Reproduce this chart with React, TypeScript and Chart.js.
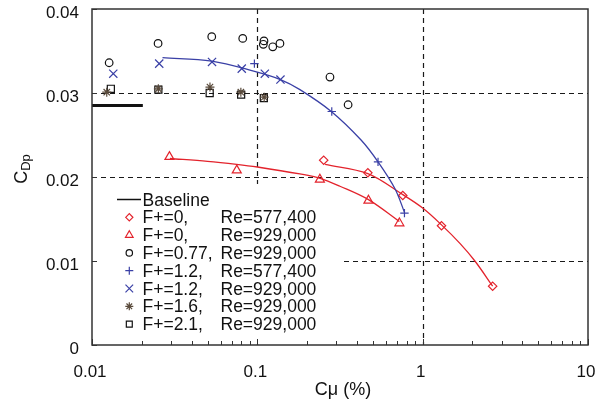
import React, { useEffect, useRef } from 'react';
import { Chart, registerables } from 'chart.js';
Chart.register(...registerables);

const RED = '#e3232c';
const BLUE = '#3a40a6';
const BROWN = '#5a4b3c';
const BLACK = '#111111';
const FONT = '"Liberation Sans", Arial, sans-serif';

// Axis ticks
const xTickValues = [0.01, 0.1, 1, 10];
const xTickLabels = ['0.01', '0.1', '1', '10'];
const xMinorBases = [2, 3, 4, 5, 6, 7, 8, 9];
const yTickValues = [0, 0.01, 0.02, 0.03, 0.04];
const yTickLabels = ['0', '0.01', '0.02', '0.03', '0.04'];
const xGridValues = [0.1, 1];
const yGridValues = [0.01, 0.02, 0.03];

// Baseline
const baselineCmu = [0.01, 0.0203];
const baselineCdp = [0.0285, 0.0285];

// Measured series
const diamondCmu = [0.252, 0.466, 0.758, 1.3, 2.65];
const diamondCdp = [0.022, 0.0205, 0.0178, 0.0142, 0.007];
const triangleCmu = [0.0294, 0.0751, 0.239, 0.47, 0.723];
const triangleCdp = [0.0224, 0.0208, 0.0197, 0.0172, 0.0145];
const circleCmu = [0.0127, 0.0251, 0.053, 0.0816, 0.1097, 0.1087, 0.124, 0.137, 0.275, 0.354];
const circleCdp = [0.0336, 0.0359, 0.0367, 0.0365, 0.0362, 0.0358, 0.0355, 0.0359, 0.0319, 0.0286];
const plusCmu = [0.096, 0.282, 0.537, 0.776];
const plusCdp = [0.0335, 0.0278, 0.0218, 0.0157];
const crossCmu = [0.01345, 0.0255, 0.0532, 0.0805, 0.111, 0.138];
const crossCdp = [0.0323, 0.0335, 0.0337, 0.0329, 0.0323, 0.0316];
const starCmu = [0.01228, 0.0252, 0.0517, 0.0795, 0.11];
const starCdp = [0.0301, 0.0305, 0.0307, 0.0301, 0.0295];
const squareCmu = [0.013, 0.0252, 0.0515, 0.0798, 0.1095];
const squareCdp = [0.0305, 0.0304, 0.03, 0.0298, 0.0294];

// Fit curves
const fitBlueCmu = [0.0267, 0.053, 0.095, 0.138, 0.181, 0.28, 0.424, 0.537, 0.68, 0.776];
const fitBlueCdp = [0.0342, 0.0338, 0.0326, 0.0316, 0.0304, 0.0278, 0.0244, 0.0218, 0.0186, 0.0158];
const fitRedLowCmu = [0.0296, 0.05, 0.075, 0.1, 0.181, 0.24, 0.316, 0.47, 0.723];
const fitRedLowCdp = [0.0222, 0.02187, 0.02151, 0.02119, 0.02036, 0.01984, 0.0189, 0.0173, 0.0147];
const fitRedHighCmu = [0.257, 0.466, 0.758, 1.0, 1.3, 1.68, 2.07, 2.65];
const fitRedHighCdp = [0.0215, 0.0204, 0.0179, 0.0163, 0.0143, 0.0121, 0.01, 0.007];

// Legend
const legendStyles = ['rectRot', 'triangle', 'circle', 'cross', 'crossRot', 'star', 'rect'];
const legendColors = [RED, RED, BLACK, BLUE, BLUE, BROWN, BLACK];
const legendF = ['F+=0,', 'F+=0,', 'F+=0.77,', 'F+=1.2,', 'F+=1.2,', 'F+=1.6,', 'F+=2.1,'];
const legendRe = ['Re=577,400', 'Re=929,000', 'Re=929,000', 'Re=577,400', 'Re=929,000', 'Re=929,000', 'Re=929,000'];
const legendRadius = [3.6, 4.4, 3.2, 4, 5.4, 4, 4.2];

const pts = (xs: number[], ys: number[]) => xs.map((x, i) => ({ x, y: ys[i] }));

function drawMarker(ctx: CanvasRenderingContext2D, style: string, x: number, y: number, r: number, color: string) {
  ctx.save();
  ctx.strokeStyle = color;
  ctx.lineWidth = 1.2;
  ctx.beginPath();
  if (style === 'circle') {
    ctx.arc(x, y, r, 0, Math.PI * 2);
  } else if (style === 'rectRot') {
    ctx.moveTo(x - r, y); ctx.lineTo(x, y - r); ctx.lineTo(x + r, y); ctx.lineTo(x, y + r); ctx.closePath();
  } else if (style === 'triangle') {
    for (let k = 0; k < 3; k++) {
      const a = (k * 2 * Math.PI) / 3;
      const px = x + Math.sin(a) * r, py = y - Math.cos(a) * r;
      if (k === 0) ctx.moveTo(px, py); else ctx.lineTo(px, py);
    }
    ctx.closePath();
  } else if (style === 'rect') {
    const s = Math.SQRT1_2 * r;
    ctx.rect(x - s, y - s, 2 * s, 2 * s);
  } else if (style === 'cross') {
    ctx.moveTo(x - r, y); ctx.lineTo(x + r, y); ctx.moveTo(x, y - r); ctx.lineTo(x, y + r);
  } else if (style === 'crossRot') {
    const s = Math.SQRT1_2 * r;
    ctx.moveTo(x - s, y - s); ctx.lineTo(x + s, y + s); ctx.moveTo(x - s, y + s); ctx.lineTo(x + s, y - s);
  } else if (style === 'star') {
    const s = Math.SQRT1_2 * r;
    ctx.moveTo(x - r, y); ctx.lineTo(x + r, y); ctx.moveTo(x, y - r); ctx.lineTo(x, y + r);
    ctx.moveTo(x - s, y - s); ctx.lineTo(x + s, y + s); ctx.moveTo(x - s, y + s); ctx.lineTo(x + s, y - s);
  }
  ctx.stroke();
  ctx.restore();
}

const LEG_X1 = 344;
const LEG_Y0 = 184;

const overlay = {
  id: 'overlay',
  beforeDatasetsDraw(chart: any) {
    const { ctx, chartArea: a, scales } = chart;
    const xs = scales.x, ys = scales.y;
    ctx.save();
    ctx.strokeStyle = '#1a1a1a';
    ctx.lineWidth = 1.2;
    ctx.setLineDash([5, 4]);
    xGridValues.forEach((v) => {
      const px = Math.round(xs.getPixelForValue(v)) + 0.5;
      ctx.beginPath(); ctx.moveTo(px, a.top); ctx.lineTo(px, a.bottom); ctx.stroke();
    });
    yGridValues.forEach((v) => {
      const py = Math.round(ys.getPixelForValue(v)) + 0.5;
      ctx.beginPath(); ctx.moveTo(a.left, py); ctx.lineTo(a.right, py); ctx.stroke();
    });
    ctx.setLineDash([]);
    // legend background
    ctx.fillStyle = '#ffffff';
    ctx.fillRect(a.left + 1, LEG_Y0, LEG_X1 - a.left - 1, a.bottom - LEG_Y0 - 1);
    ctx.restore();
  },
  afterDraw(chart: any) {
    const { ctx, chartArea: a, scales } = chart;
    const xs = scales.x, ys = scales.y;
    ctx.save();
    // frame
    ctx.strokeStyle = '#333333';
    ctx.lineWidth = 1.5;
    ctx.strokeRect(a.left, a.top, a.right - a.left, a.bottom - a.top);
    // bottom ticks (inward)
    ctx.lineWidth = 1;
    ctx.strokeStyle = '#333333';
    for (let d = -2; d < 1; d++) {
      xMinorBases.forEach((b) => {
        const px = Math.round(xs.getPixelForValue(b * Math.pow(10, d))) + 0.5;
        ctx.beginPath(); ctx.moveTo(px, a.bottom); ctx.lineTo(px, a.bottom - 4); ctx.stroke();
      });
    }
    xTickValues.forEach((v) => {
      const px = Math.round(xs.getPixelForValue(v)) + 0.5;
      ctx.beginPath(); ctx.moveTo(px, a.bottom); ctx.lineTo(px, a.bottom - 6); ctx.stroke();
    });
    yTickValues.forEach((v) => {
      const py = Math.round(ys.getPixelForValue(v)) + 0.5;
      ctx.beginPath(); ctx.moveTo(a.left, py); ctx.lineTo(a.left + 5, py); ctx.stroke();
    });
    // tick labels
    ctx.fillStyle = '#111111';
    ctx.font = `17px ${FONT}`;
    ctx.textAlign = 'center';
    ctx.textBaseline = 'alphabetic';
    xTickValues.forEach((v, i) => {
      const px = xs.getPixelForValue(v);
      ctx.fillText(xTickLabels[i], px - 2, 377);
    });
    ctx.textAlign = 'right';
    yTickValues.forEach((v, i) => {
      const py = ys.getPixelForValue(v);
      ctx.fillText(yTickLabels[i], 79, py + 8.5);
    });
    // x title
    ctx.textAlign = 'center';
    ctx.font = `18px ${FONT}`;
    ctx.fillText('Cμ (%)', (a.left + a.right) / 2 + 3, 395);
    // y title with subscript
    ctx.save();
    ctx.translate(27, 169);
    ctx.rotate(-Math.PI / 2);
    ctx.textAlign = 'left';
    ctx.font = `18px ${FONT}`;
    const wC = ctx.measureText('C').width;
    ctx.font = `13px ${FONT}`;
    const wS = ctx.measureText('Dp').width;
    const start = -(wC + wS) / 2;
    ctx.font = `18px ${FONT}`;
    ctx.fillText('C', start, 0);
    ctx.font = `13px ${FONT}`;
    ctx.fillText('Dp', start + wC, 3);
    ctx.restore();
    // legend
    const rowY0 = 199.5;
    const step = 17.8;
    ctx.strokeStyle = '#111111';
    ctx.lineWidth = 1.5;
    ctx.beginPath(); ctx.moveTo(117, rowY0); ctx.lineTo(141, rowY0); ctx.stroke();
    ctx.font = `17.5px ${FONT}`;
    ctx.textAlign = 'left';
    ctx.fillStyle = '#111111';
    ctx.fillText('Baseline', 142.5, rowY0 + 6);
    legendF.forEach((f, i) => {
      const ry = rowY0 + step * (i + 1);
      drawMarker(ctx, legendStyles[i], 129.3, ry, legendRadius[i], legendColors[i]);
      ctx.fillStyle = '#111111';
      ctx.fillText(f, 142.5, ry + 6);
      ctx.fillText(legendRe[i], 220.5, ry + 6);
    });
    ctx.restore();
  },
};

export default function App() {
  const ref = useRef<HTMLCanvasElement | null>(null);
  useEffect(() => {
    if (!ref.current) return;
    const markerDs = (label: string, xs: number[], ys: number[], style: string, color: string, r: number) => ({
      label,
      data: pts(xs, ys),
      showLine: false,
      pointStyle: style,
      pointRadius: r,
      pointBorderColor: color,
      pointBackgroundColor: 'rgba(0,0,0,0)',
      pointBorderWidth: 1.2,
      borderColor: color,
      backgroundColor: 'rgba(0,0,0,0)',
    });
    const lineDs = (label: string, xs: number[], ys: number[], color: string, w: number, smooth: boolean) => ({
      label,
      data: pts(xs, ys),
      showLine: true,
      pointRadius: 0,
      borderColor: color,
      borderWidth: w,
      backgroundColor: 'rgba(0,0,0,0)',
      cubicInterpolationMode: 'default',
      tension: smooth ? 0.35 : 0,
      fill: false,
    });
    const chart = new Chart(ref.current, {
      type: 'scatter',
      data: {
        datasets: [
          lineDs('Baseline', baselineCmu, baselineCdp, BLACK, 3, false),
          lineDs('fitBlue', fitBlueCmu, fitBlueCdp, BLUE, 1.3, true),
          lineDs('fitRedLow', fitRedLowCmu, fitRedLowCdp, RED, 1.3, true),
          lineDs('fitRedHigh', fitRedHighCmu, fitRedHighCdp, RED, 1.3, true),
          markerDs('F+=0, Re=577,400', diamondCmu, diamondCdp, 'rectRot', RED, 4.2),
          markerDs('F+=0, Re=929,000', triangleCmu, triangleCdp, 'triangle', RED, 5.2),
          markerDs('F+=0.77, Re=929,000', circleCmu, circleCdp, 'circle', BLACK, 3.8),
          markerDs('F+=1.2, Re=577,400', plusCmu, plusCdp, 'cross', BLUE, 4.2),
          markerDs('F+=1.2, Re=929,000', crossCmu, crossCdp, 'crossRot', BLUE, 5.8),
          markerDs('F+=1.6, Re=929,000', starCmu, starCdp, 'star', BROWN, 4.5),
          markerDs('F+=2.1, Re=929,000', squareCmu, squareCdp, 'rect', BLACK, 5),
        ] as any,
      },
      options: {
        responsive: false,
        animation: false,
        layout: { padding: { left: 92, right: 15, top: 9, bottom: 60 } },
        plugins: { legend: { display: false }, tooltip: { enabled: false } },
        scales: {
          x: { type: 'logarithmic', min: 0.01, max: 10, display: false },
          y: { type: 'linear', min: 0, max: 0.04, display: false },
        },
      } as any,
      plugins: [overlay],
    });
    return () => chart.destroy();
  }, []);
  return (
    <div style={{ position: 'fixed', left: 0, top: 0, width: 603, height: 405, background: '#fff' }}>
      <canvas ref={ref} width={603} height={405} style={{ width: 603, height: 405 }} />
    </div>
  );
}
